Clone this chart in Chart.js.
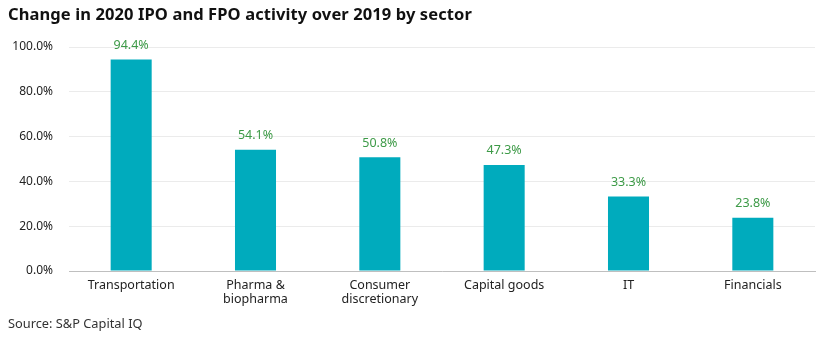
<!DOCTYPE html>
<html>
<head>
<meta charset="utf-8">
<script src="https://cdn.jsdelivr.net/npm/chart.js@4/dist/chart.umd.min.js"></script>
<style>
    html, body { margin: 0; padding: 0; background: #fff; }
    #wrap { position: relative; width: 830px; height: 344px; font-family: 'Noto Sans', sans-serif; }
    #title { position: absolute; left: 8px; top: 2px; font-size: 16.5px; letter-spacing: 0.1px; font-weight: 700; color: #111; white-space: nowrap; }
    #source { position: absolute; left: 8px; top: 314px; font-size: 12.8px; color: #333; white-space: nowrap; }
    canvas { position: absolute; left: 0; top: 0; }
</style>
</head>
<body>
<div id="wrap">
    <canvas id="sector-chart" width="830" height="344"></canvas>
    <div id="title">Change in 2020 IPO and FPO activity over 2019 by sector</div>
    <div id="source">Source: S&amp;P Capital IQ</div>
</div>
<script>
const sectors = [
    ['Transportation'],
    ['Pharma &', 'biopharma'],
    ['Consumer', 'discretionary'],
    ['Capital goods'],
    ['IT'],
    ['Financials']
];
const changePct = [94.4, 54.1, 50.8, 47.3, 33.3, 23.8];
const yTicks = [0, 20, 40, 60, 80, 100];

const fontFamily = "'Noto Sans', sans-serif";

// draw the value above each bar (no datalabels plugin available)
const barValueLabels = {
    id: 'barValueLabels',
    afterDatasetsDraw(chart) {
        const { ctx } = chart;
        const meta = chart.getDatasetMeta(0);
        ctx.save();
        ctx.font = `12.5px ${fontFamily}`;
        ctx.fillStyle = '#3d9a47';
        ctx.textAlign = 'center';
        ctx.textBaseline = 'bottom';
        meta.data.forEach((bar, i) => {
            ctx.fillText(`${changePct[i].toFixed(1)}%`, bar.x, bar.y - 8);
        });
        ctx.restore();
    }
};

new Chart(document.getElementById('sector-chart'), {
    type: 'bar',
    data: {
        labels: sectors,
        datasets: [{
            data: changePct,
            backgroundColor: '#00abbd',
            categoryPercentage: 1,
            barPercentage: 0.33
        }]
    },
    options: {
        responsive: false,
        animation: false,
        layout: { padding: { top: 47, left: 9, right: 15, bottom: 0 } },
        plugins: {
            legend: { display: false },
            tooltip: { enabled: false }
        },
        scales: {
            x: {
                grid: { display: false, drawTicks: false },
                border: { display: true, color: '#bfbfbf', width: 1 },
                ticks: {
                    color: '#222',
                    padding: 7,
                    maxRotation: 0,
                    autoSkip: false,
                    font: { family: fontFamily, size: 12.5, lineHeight: 1.15 }
                },
                afterFit(scale) { scale.height = 73; }
            },
            y: {
                min: 0,
                max: 100,
                afterBuildTicks(scale) { scale.ticks = yTicks.map(v => ({ value: v })); },
                grid: { color: '#ebebeb', drawTicks: false },
                border: { display: false },
                ticks: {
                    color: '#222',
                    padding: 16,
                    font: { family: fontFamily, size: 12 },
                    callback: v => `${v.toFixed(1)}%`
                },
                afterFit(scale) { scale.width = 60; }
            }
        }
    },
    plugins: [barValueLabels]
});
</script>
</body>
</html>
